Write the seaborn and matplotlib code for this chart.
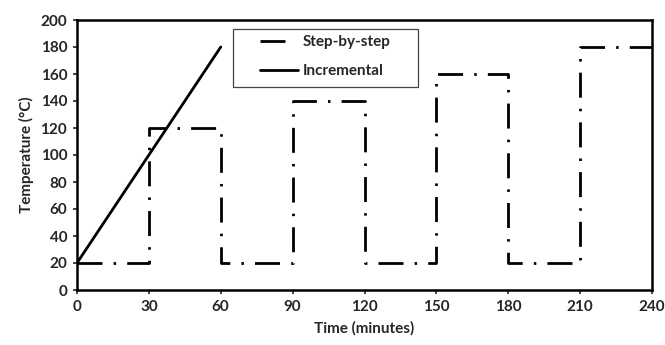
import matplotlib
matplotlib.use("Agg")
import matplotlib.pyplot as plt
from matplotlib.patches import Rectangle
import seaborn as sns
import pandas as pd

# Data
step_time = [0, 30, 30, 60, 60, 90, 90, 120, 120, 150, 150, 180, 180, 210, 210, 240]
step_temp = [20, 20, 120, 120, 20, 20, 140, 140, 20, 20, 160, 160, 20, 20, 180, 180]
inc_time = [0, 60]
inc_temp = [20, 180]
x_ticks = [0, 30, 60, 90, 120, 150, 180, 210, 240]
y_ticks = [0, 20, 40, 60, 80, 100, 120, 140, 160, 180, 200]

df = pd.concat([
    pd.DataFrame({"Time": step_time, "Temp": step_temp, "Series": "Step-by-step"}),
    pd.DataFrame({"Time": inc_time, "Temp": inc_temp, "Series": "Incremental"}),
], ignore_index=True)

sns.set_style("white")
plt.rcParams["font.family"] = ["Lato", "DejaVu Sans"]
plt.rcParams["font.weight"] = "bold"

fig = plt.figure(figsize=(6.65, 3.45), dpi=100)
ax = fig.add_axes([77/665, 1 - 290/345, 575/665, 270/345])

sns.lineplot(data=df, x="Time", y="Temp", style="Series", hue="Series",
             palette={"Step-by-step": "black", "Incremental": "black"},
             dashes={"Step-by-step": (9, 4, 0.9, 4), "Incremental": ""},
             estimator=None, sort=False, linewidth=2.0, ax=ax)

ax.set_xlim(0, 240)
ax.set_ylim(0, 200)
ax.set_xticks(x_ticks)
ax.set_yticks(y_ticks)
ax.tick_params(axis="both", direction="out", length=3, width=1.2, labelsize=11, pad=4,
               bottom=True, left=True)
for lab in ax.get_xticklabels() + ax.get_yticklabels():
    lab.set_fontweight("bold")
for s in ax.spines.values():
    s.set_linewidth(1.8)
    s.set_color("black")

ax.set_xlabel("Time (minutes)", fontsize=11, fontweight="bold", labelpad=5)
ax.set_ylabel("Temperature (°C)", fontsize=11, fontweight="bold", labelpad=5)

handles, labels = ax.get_legend_handles_labels()
leg = ax.legend(handles, labels, loc="upper left", bbox_to_anchor=(0.318, 0.945),
                frameon=False, fontsize=11, handlelength=2.5, borderpad=0,
                labelspacing=1.0, handletextpad=0.3, borderaxespad=0)
for t in leg.get_texts():
    t.set_fontweight("bold")
leg.legend_handles[0].set_dashes([9, 6, 0.9, 4])

ax.add_patch(Rectangle((0.2713, 0.752), 0.3217, 0.215, transform=ax.transAxes,
                       fill=True, facecolor="white", edgecolor="#444444",
                       linewidth=0.9, zorder=4))
leg.set_zorder(5)

fig.savefig("out.png", dpi=100)
